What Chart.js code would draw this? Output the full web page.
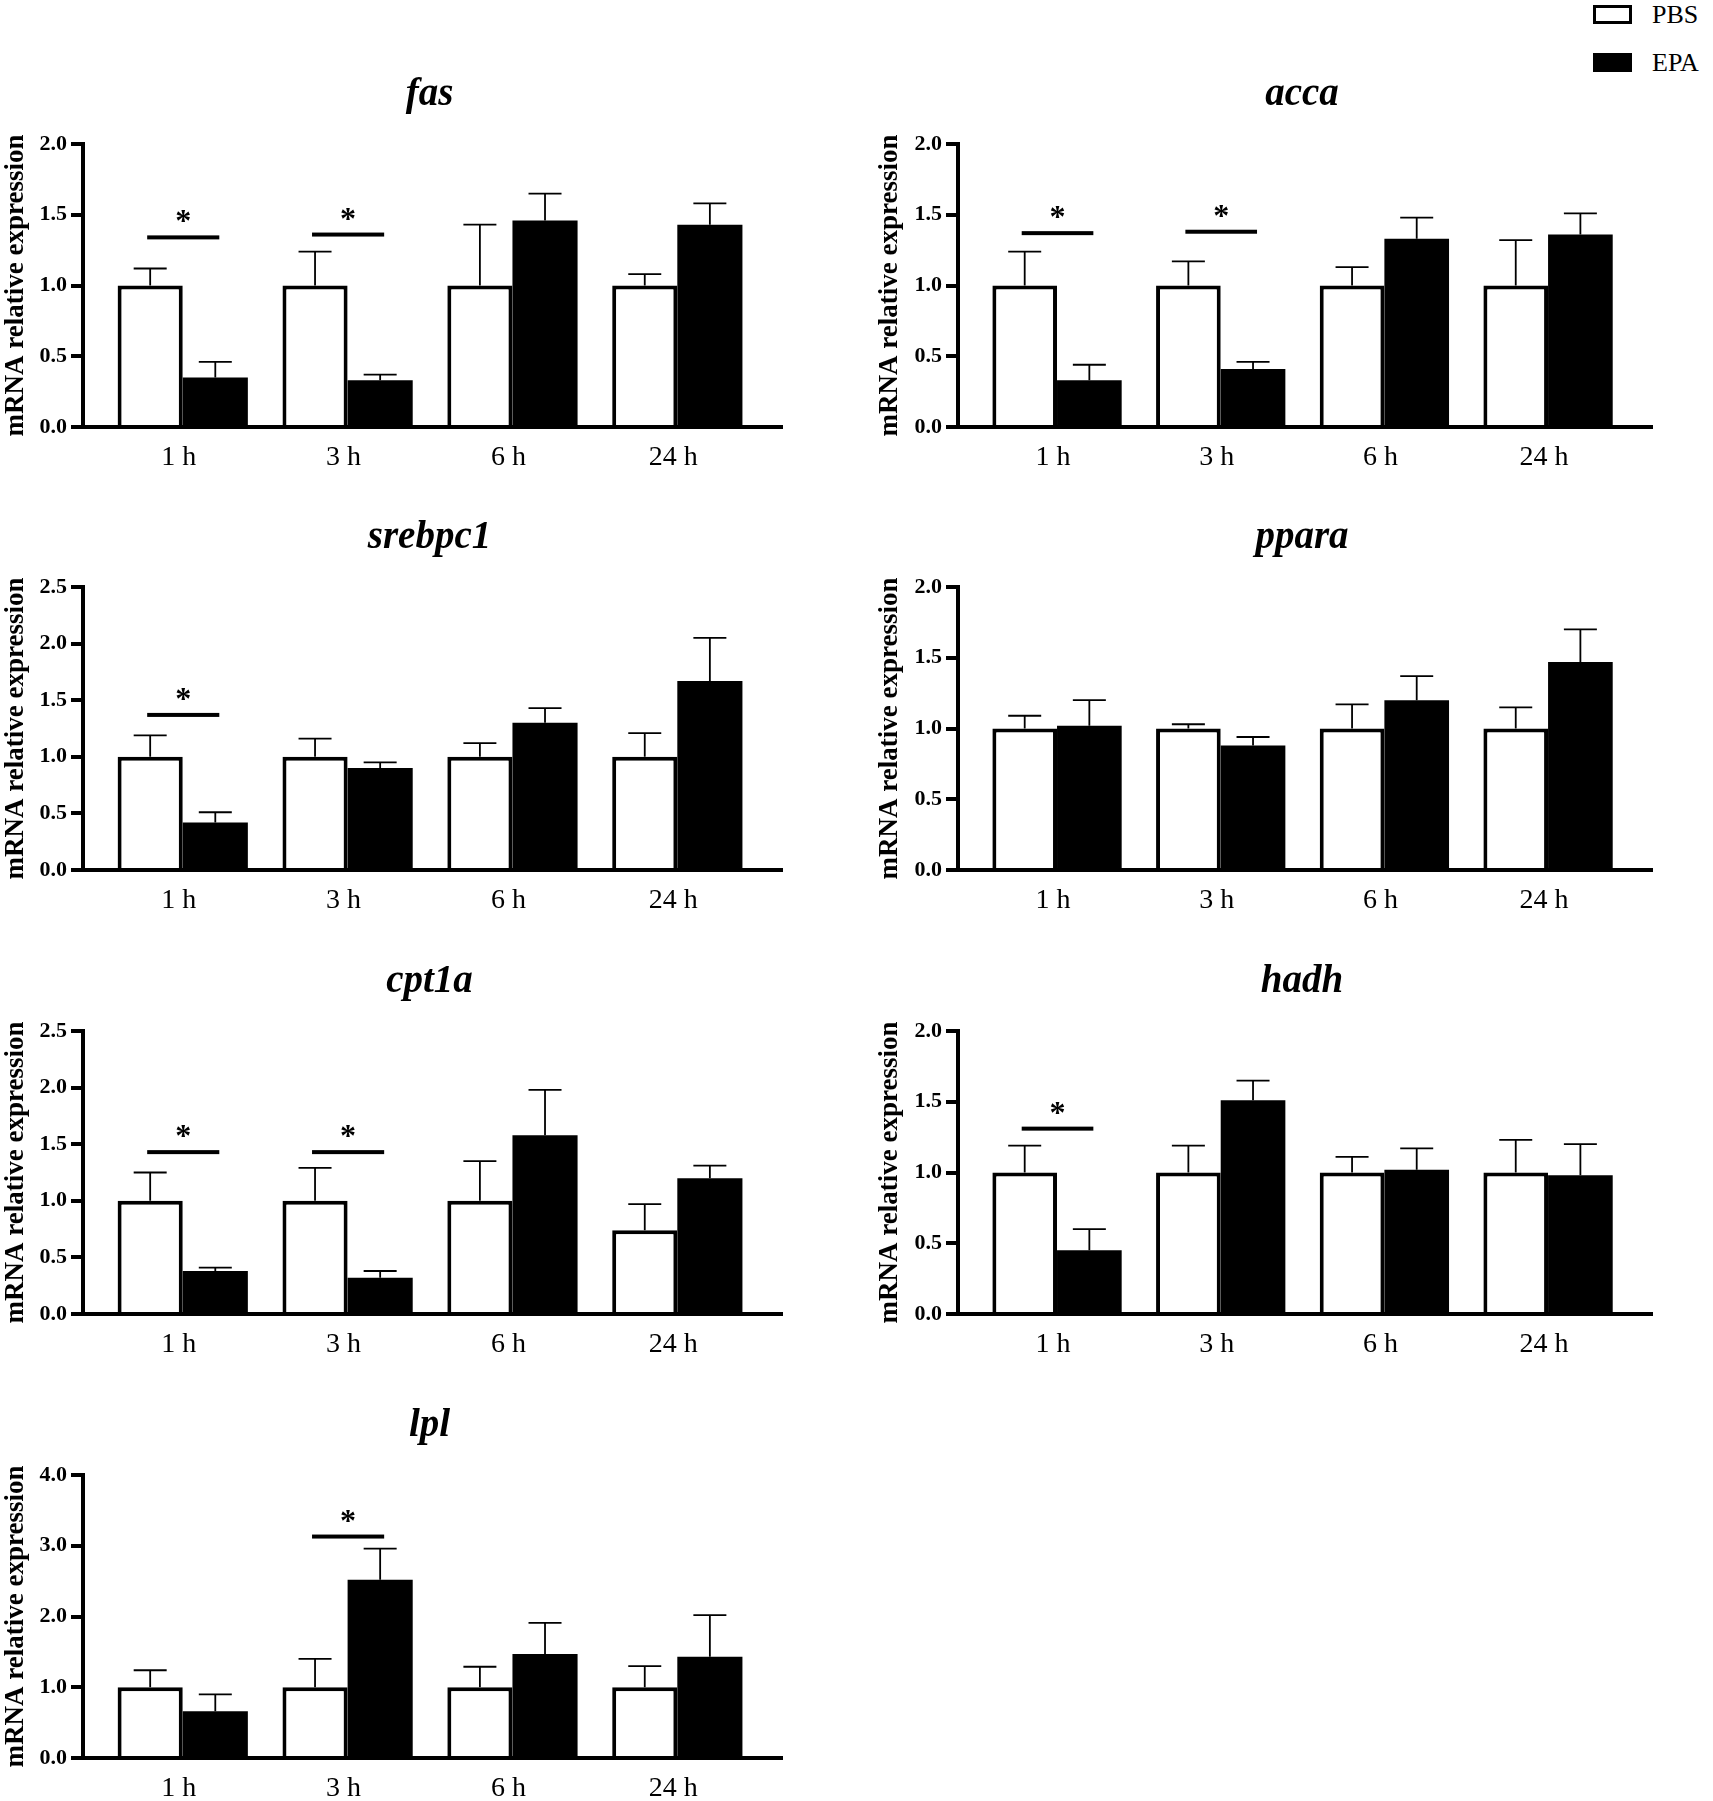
<!DOCTYPE html>
<html>
<head>
<meta charset="utf-8">
<script src="https://cdn.jsdelivr.net/npm/chart.js@4.4.1/dist/chart.umd.min.js"></script>
<style>
  html, body { margin: 0; padding: 0; background: #fff; overflow: hidden; }
  body { width: 1713px; height: 1801px; position: relative; font-family: "Liberation Serif", "Times New Roman", serif; }
  canvas { position: absolute; }
  .box { position: absolute; width: 39px; height: 19px; box-sizing: border-box; border: 3.5px solid #000; }
  .lab { position: absolute; font-size: 26px; line-height: 26px; color: #000; }
</style>
</head>
<body>
<div class="box" style="left:1593px; top:5px; background:#fff;"></div>
<div class="lab" style="left:1652px; top:2px;">PBS</div>
<div class="box" style="left:1593px; top:53px; background:#000;"></div>
<div class="lab" style="left:1652px; top:50px;">EPA</div>

<script>
'use strict';

var timePoints = ['1 h', '3 h', '6 h', '24 h'];

// fas
var fasPBS = [1.00, 1.00, 1.00, 1.00];
var fasPBSErr = [0.12, 0.24, 0.43, 0.08];
var fasEPA = [0.35, 0.33, 1.46, 1.43];
var fasEPAErr = [0.11, 0.04, 0.19, 0.15];
var fasSig = [1.34, 1.36, null, null];

// acca
var accaPBS = [1.00, 1.00, 1.00, 1.00];
var accaPBSErr = [0.24, 0.17, 0.13, 0.32];
var accaEPA = [0.33, 0.41, 1.33, 1.36];
var accaEPAErr = [0.11, 0.05, 0.15, 0.15];
var accaSig = [1.37, 1.38, null, null];

// srebpc1
var srebpc1PBS = [1.00, 1.00, 1.00, 1.00];
var srebpc1PBSErr = [0.19, 0.16, 0.12, 0.21];
var srebpc1EPA = [0.42, 0.90, 1.30, 1.67];
var srebpc1EPAErr = [0.09, 0.05, 0.13, 0.38];
var srebpc1Sig = [1.37, null, null, null];

// ppara
var pparaPBS = [1.00, 1.00, 1.00, 1.00];
var pparaPBSErr = [0.09, 0.03, 0.17, 0.15];
var pparaEPA = [1.02, 0.88, 1.20, 1.47];
var pparaEPAErr = [0.18, 0.06, 0.17, 0.23];
var pparaSig = [null, null, null, null];

// cpt1a
var cpt1aPBS = [1.00, 1.00, 1.00, 0.74];
var cpt1aPBSErr = [0.25, 0.29, 0.35, 0.23];
var cpt1aEPA = [0.38, 0.32, 1.58, 1.20];
var cpt1aEPAErr = [0.03, 0.06, 0.40, 0.11];
var cpt1aSig = [1.43, 1.43, null, null];

// hadh
var hadhPBS = [1.00, 1.00, 1.00, 1.00];
var hadhPBSErr = [0.19, 0.19, 0.11, 0.23];
var hadhEPA = [0.45, 1.51, 1.02, 0.98];
var hadhEPAErr = [0.15, 0.14, 0.15, 0.22];
var hadhSig = [1.31, null, null, null];

// lpl
var lplPBS = [1.00, 1.00, 1.00, 1.00];
var lplPBSErr = [0.24, 0.40, 0.29, 0.30];
var lplEPA = [0.66, 2.52, 1.47, 1.43];
var lplEPAErr = [0.24, 0.44, 0.44, 0.59];
var lplSig = [null, 3.13, null, null];

var serif = '"Liberation Serif", "Times New Roman", serif';
var rowTops = [144, 587, 1031, 1475];

var panels = [
    {title: 'fas', pbs: fasPBS, pbsErr: fasPBSErr, epa: fasEPA, epaErr: fasEPAErr, sig: fasSig, yMax: 2, yStep: 0.5, col: 0, row: 0},
    {title: 'acca', pbs: accaPBS, pbsErr: accaPBSErr, epa: accaEPA, epaErr: accaEPAErr, sig: accaSig, yMax: 2, yStep: 0.5, col: 1, row: 0},
    {title: 'srebpc1', pbs: srebpc1PBS, pbsErr: srebpc1PBSErr, epa: srebpc1EPA, epaErr: srebpc1EPAErr, sig: srebpc1Sig, yMax: 2.5, yStep: 0.5, col: 0, row: 1},
    {title: 'ppara', pbs: pparaPBS, pbsErr: pparaPBSErr, epa: pparaEPA, epaErr: pparaEPAErr, sig: pparaSig, yMax: 2, yStep: 0.5, col: 1, row: 1},
    {title: 'cpt1a', pbs: cpt1aPBS, pbsErr: cpt1aPBSErr, epa: cpt1aEPA, epaErr: cpt1aEPAErr, sig: cpt1aSig, yMax: 2.5, yStep: 0.5, col: 0, row: 2},
    {title: 'hadh', pbs: hadhPBS, pbsErr: hadhPBSErr, epa: hadhEPA, epaErr: hadhEPAErr, sig: hadhSig, yMax: 2, yStep: 0.5, col: 1, row: 2},
    {title: 'lpl', pbs: lplPBS, pbsErr: lplPBSErr, epa: lplEPA, epaErr: lplEPAErr, sig: lplSig, yMax: 4, yStep: 1, col: 0, row: 3}
];

// error bars, significance bars and the italic gene title
var marksPlugin = {
    id: 'marks',
    afterDatasetsDraw: function (chart, args, opts) {
        var ctx = chart.ctx;
        var y = chart.scales.y;
        ctx.save();
        ctx.strokeStyle = '#000';
        ctx.lineWidth = 1.8;
        [opts.pbsErr, opts.epaErr].forEach(function (errs, di) {
            var meta = chart.getDatasetMeta(di);
            var vals = chart.data.datasets[di].data;
            meta.data.forEach(function (bar, i) {
                var topPx = y.getPixelForValue(vals[i].y + errs[i]);
                ctx.beginPath();
                ctx.moveTo(bar.x, bar.y);
                ctx.lineTo(bar.x, topPx);
                ctx.moveTo(bar.x - 16.5, topPx);
                ctx.lineTo(bar.x + 16.5, topPx);
                ctx.stroke();
            });
        });
        var pbsMeta = chart.getDatasetMeta(0);
        var epaMeta = chart.getDatasetMeta(1);
        opts.sig.forEach(function (s, i) {
            if (s === null) return;
            var ly = y.getPixelForValue(s);
            var x0 = pbsMeta.data[i].x - 3;
            var x1 = epaMeta.data[i].x + 4;
            ctx.fillStyle = '#000';
            ctx.fillRect(x0, ly - 2, x1 - x0, 4);
            ctx.font = 'bold 32px ' + serif;
            ctx.textAlign = 'center';
            ctx.textBaseline = 'alphabetic';
            ctx.fillText('*', (x0 + x1) / 2, ly - 6);
        });
        ctx.restore();
    },
    afterDraw: function (chart, args, opts) {
        var ctx = chart.ctx;
        var area = chart.chartArea;
        ctx.save();
        ctx.fillStyle = '#000';
        ctx.font = 'italic bold 39px ' + serif;
        ctx.textAlign = 'center';
        ctx.textBaseline = 'middle';
        ctx.fillText(opts.title, (area.left + area.right) / 2 - 3, area.top - 49);
        ctx.restore();
    }
};

function makePanel(p) {
    var canvas = document.createElement('canvas');
    canvas.width = 830;
    canvas.height = 483;
    canvas.style.left = (p.col ? 874 : 0) + 'px';
    canvas.style.top = (rowTops[p.row] - 130) + 'px';
    document.body.appendChild(canvas);

    new Chart(canvas.getContext('2d'), {
        type: 'bar',
        data: {
            datasets: [{
                label: 'PBS',
                data: p.pbs.map(function (v, i) { return {x: i, y: v}; }),
                backgroundColor: '#fff',
                borderColor: '#000',
                borderWidth: 4
            }, {
                label: 'EPA',
                data: p.epa.map(function (v, i) { return {x: i, y: v}; }),
                backgroundColor: '#000',
                borderColor: '#000',
                borderWidth: 0
            }]
        },
        options: {
            responsive: false,
            animation: false,
            categoryPercentage: 0.79,
            barPercentage: 1,
            layout: {padding: {top: 130, bottom: 15, left: 0, right: p.col ? 52 : 48}},
            plugins: {
                legend: {display: false},
                tooltip: {enabled: false},
                marks: {title: p.title, pbsErr: p.pbsErr, epaErr: p.epaErr, sig: p.sig}
            },
            scales: {
                x: {
                    type: 'linear',
                    offset: false,
                    min: -0.605,
                    max: 3.635,
                    z: 1,
                    afterBuildTicks: function (s) {
                        s.ticks = timePoints.map(function (t, i) { return {value: i}; });
                    },
                    afterFit: function (s) { s.height = 55; },
                    grid: {display: false, drawTicks: false, offset: false},
                    border: {display: true, width: 4, color: '#000'},
                    ticks: {
                        callback: function (v) { return timePoints[v]; },
                        font: {family: serif, size: 28},
                        color: '#000',
                        padding: 14,
                        labelOffset: -4,
                        maxRotation: 0,
                        autoSkip: false
                    }
                },
                y: {
                    min: 0,
                    max: p.yMax,
                    afterFit: function (s) { s.width = p.col ? 84 : 83; },
                    ticks: {
                        stepSize: p.yStep,
                        callback: function (v) { return v.toFixed(1); },
                        font: {family: serif, size: 22, weight: 'bold'},
                        color: '#000',
                        padding: 4
                    },
                    grid: {drawOnChartArea: false, drawTicks: true, tickLength: 12, lineWidth: 4, color: '#000'},
                    border: {display: true, width: 4, color: '#000'},
                    title: {
                        display: true,
                        text: 'mRNA relative expression',
                        font: {family: serif, size: 27, weight: 'bold'},
                        color: '#000',
                        padding: 0
                    }
                }
            }
        },
        plugins: [marksPlugin]
    });
}

panels.forEach(makePanel);
</script>
</body>
</html>
